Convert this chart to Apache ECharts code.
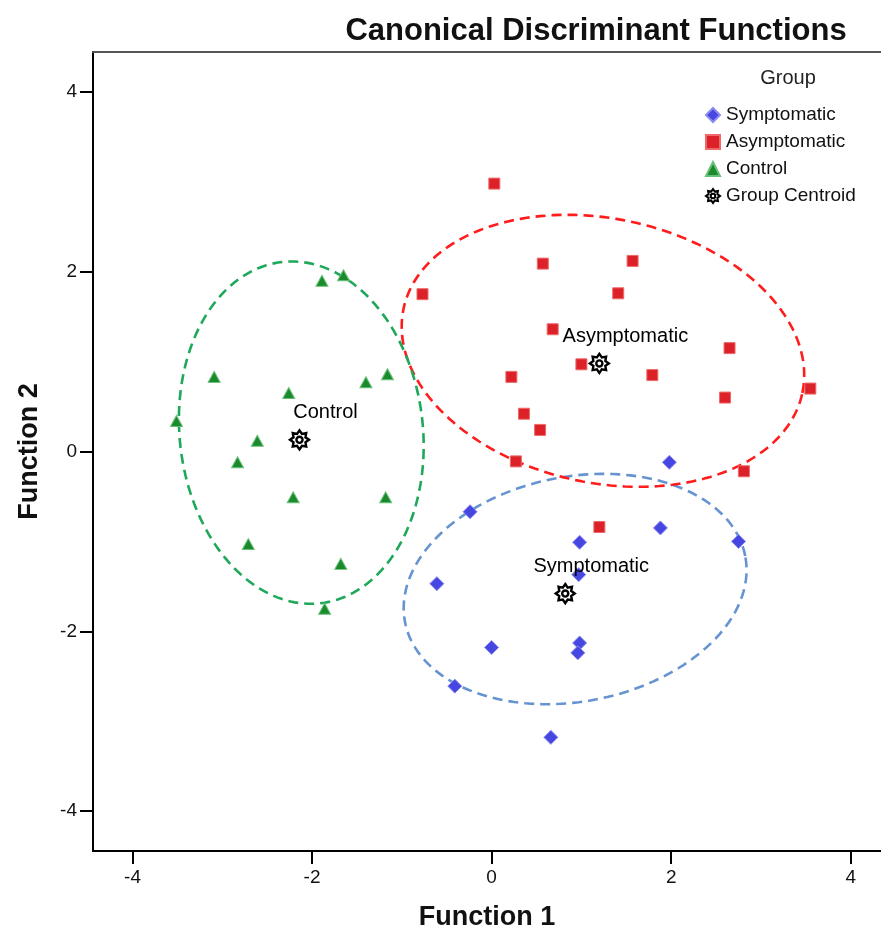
<!DOCTYPE html>
<html>
<head>
<meta charset="utf-8">
<title>Canonical Discriminant Functions</title>
<script src="https://cdn.jsdelivr.net/npm/echarts@6/dist/echarts.min.js"></script>
<style>
  html, body { margin: 0; padding: 0; background: #fff; }
  #chart { width: 881px; height: 939px; }
</style>
</head>
<body>
<div id="chart"></div>
<script>
// Discriminant scores [Function 1, Function 2] for each case
const symptomatic = [
  [1.98, -0.12], [-0.24, -0.67], [0.98, -1.01], [1.88, -0.85], [2.75, -1.00],
  [0.97, -1.37], [-0.61, -1.47], [0.00, -2.18], [0.98, -2.13], [0.96, -2.24],
  [-0.41, -2.61], [0.66, -3.18]
];
const asymptomatic = [
  [0.03, 2.98], [0.57, 2.09], [1.57, 2.12], [-0.77, 1.75], [1.41, 1.76],
  [0.68, 1.36], [1.00, 0.97], [2.65, 1.15], [0.22, 0.83], [1.79, 0.85],
  [3.55, 0.70], [2.60, 0.60], [0.36, 0.42], [0.54, 0.24], [0.27, -0.11],
  [2.81, -0.22], [1.20, -0.84]
];
const control = [
  [-1.89, 1.90], [-1.65, 1.96], [-3.09, 0.83], [-2.26, 0.65], [-1.40, 0.77],
  [-1.16, 0.86], [-3.51, 0.34], [-2.61, 0.12], [-2.83, -0.12], [-2.21, -0.51],
  [-1.18, -0.51], [-2.71, -1.03], [-1.68, -1.25], [-1.86, -1.75]
];

// Group centroids
const centroidNames = ['Symptomatic', 'Asymptomatic', 'Control'];
const centroids = [[0.82, -1.58], [1.20, 0.98], [-2.14, 0.13]];

// Group boundary ellipses: [centre x, centre y, semi-axis a, semi-axis b, rotation in degrees]
const symptomaticEllipse = [0.93, -1.53, 1.93, 1.25, 11.0];
const asymptomaticEllipse = [1.24, 1.12, 2.27, 1.47, -11.9];
const controlEllipse = [-2.12, 0.21, 1.91, 1.355, -83.6];

// Axis tick values
const xTicks = [-4, -2, 0, 2, 4];
const yTicks = [-4, -2, 0, 2, 4];

const FONT = '"Liberation Sans", Arial, Helvetica, sans-serif';

// Sun-shaped centroid marker: 8-point star with a hollow core
function centroidSymbol() {
  const pts = [];
  for (let k = 0; k < 16; k++) {
    const ang = -Math.PI / 2 + k * Math.PI / 8;
    const r = k % 2 === 0 ? 50 : 34;
    pts.push((50 + r * Math.cos(ang)).toFixed(2) + ',' + (50 + r * Math.sin(ang)).toFixed(2));
  }
  let d = 'M' + pts.join('L') + 'Z';
  d += 'M66,50A16,16 0 1,0 34,50A16,16 0 1,0 66,50Z';
  return 'path://' + d;
}
const centroidIcon = centroidSymbol();

const ellipseColors = ['#6594d0', '#ff1c1c', '#1ea85a'];

function ellipseItem(params, api) {
  const cx = api.value(0), cy = api.value(1);
  const a = api.value(2), b = api.value(3);
  const rot = api.value(4) * Math.PI / 180;
  const pts = [];
  const n = 180;
  for (let i = 0; i <= n; i++) {
    const t = i / n * 2 * Math.PI;
    const x = cx + a * Math.cos(t) * Math.cos(rot) - b * Math.sin(t) * Math.sin(rot);
    const y = cy + a * Math.cos(t) * Math.sin(rot) + b * Math.sin(t) * Math.cos(rot);
    pts.push(api.coord([x, y]));
  }
  return {
    type: 'polyline',
    shape: { points: pts },
    style: {
      fill: null,
      stroke: ellipseColors[params.dataIndex],
      lineWidth: 2.6,
      lineDash: [10, 6]
    },
    silent: true
  };
}

const chart = echarts.init(document.getElementById('chart'), null, { renderer: 'canvas' });

const xMin = -4.44, xMax = 4.337;
const yMin = -4.444, yMax = 4.444;

chart.setOption({
  animation: false,
  backgroundColor: '#ffffff',
  textStyle: { fontFamily: FONT },
  title: [
    {
      text: 'Canonical Discriminant Functions',
      left: 591, top: 11, textAlign: 'center',
      textStyle: { fontFamily: FONT, fontSize: 31, fontWeight: 'bold', color: '#111' }
    },
    {
      text: 'Group',
      left: 783, top: 63, textAlign: 'center',
      textStyle: { fontFamily: FONT, fontSize: 20, fontWeight: 'normal', color: '#222' }
    }
  ],
  legend: {
    orient: 'vertical',
    left: 700, top: 100,
    itemWidth: 14, itemHeight: 14,
    itemGap: 7,
    textStyle: { fontFamily: FONT, fontSize: 19, color: '#111', lineHeight: 20, padding: [0, 0, 0, 1] },
    data: [
      { name: 'Symptomatic', icon: 'diamond' },
      { name: 'Asymptomatic', icon: 'rect' },
      { name: 'Control', icon: 'triangle' },
      { name: 'Group Centroid', icon: centroidIcon, itemStyle: { color: '#fff', borderColor: '#000', borderWidth: 2 } }
    ]
  },
  grid: { left: 93, right: 0, top: 52, bottom: 88, containLabel: false },
  xAxis: [
    {
      type: 'value', min: xMin, max: xMax, position: 'bottom',
      axisLine: { show: true, onZero: false, lineStyle: { color: '#000', width: 2 } },
      axisTick: { show: true, customValues: xTicks, length: 13, lineStyle: { color: '#000', width: 2 } },
      axisLabel: { customValues: xTicks, margin: 17, fontSize: 19, color: '#111', fontFamily: FONT },
      splitLine: { show: false },
      name: 'Function 1', nameLocation: 'middle', nameGap: 53,
      nameTextStyle: { fontFamily: FONT, fontSize: 27, fontWeight: 'bold', color: '#111' }
    },
    {
      type: 'value', min: xMin, max: xMax, position: 'top',
      axisLine: { show: true, onZero: false, lineStyle: { color: '#555', width: 2 } },
      axisTick: { show: false }, axisLabel: { show: false }, splitLine: { show: false }
    }
  ],
  yAxis: {
    type: 'value', min: yMin, max: yMax,
    axisLine: { show: true, onZero: false, lineStyle: { color: '#000', width: 2 } },
    axisTick: { show: true, customValues: yTicks, length: 13, lineStyle: { color: '#000', width: 2 } },
    axisLabel: { customValues: yTicks, margin: 16, fontSize: 19, color: '#111', fontFamily: FONT },
    splitLine: { show: false },
    name: 'Function 2', nameLocation: 'middle', nameGap: 50, nameRotate: 90,
    nameTextStyle: { fontFamily: FONT, fontSize: 27, fontWeight: 'bold', color: '#111' }
  },
  series: [
    {
      type: 'custom',
      name: 'ellipses',
      renderItem: ellipseItem,
      data: [symptomaticEllipse, asymptomaticEllipse, controlEllipse],
      encode: { x: 0, y: 1 },
      z: 1,
      silent: true,
      clip: false
    },
    {
      type: 'scatter', name: 'Symptomatic', data: symptomatic,
      symbol: 'diamond', symbolSize: 14,
      itemStyle: { color: '#4646e0', borderColor: '#8a8af0', borderWidth: 1, opacity: 1 },
      z: 3
    },
    {
      type: 'scatter', name: 'Asymptomatic', data: asymptomatic,
      symbol: 'rect', symbolSize: 11,
      itemStyle: { color: '#dc2228', borderColor: '#ee6a6a', borderWidth: 1, opacity: 1 },
      z: 3
    },
    {
      type: 'scatter', name: 'Control', data: control,
      symbol: 'triangle', symbolSize: [12, 11],
      itemStyle: { color: '#1a8a2c', borderColor: '#68c078', borderWidth: 1, opacity: 1 },
      z: 3
    },
    {
      type: 'scatter', name: 'Group Centroid',
      data: centroids.map((c, i) => ({ value: c, name: centroidNames[i] })),
      symbol: centroidIcon, symbolSize: 19,
      itemStyle: { color: '#ffffff', borderColor: '#000', borderWidth: 2.4, opacity: 1 },
      label: {
        show: true, position: 'inside', offset: [26, -27],
        formatter: p => p.name,
        fontFamily: FONT, fontSize: 20, color: '#000'
      },
      z: 4
    }
  ]
});
</script>
</body>
</html>
